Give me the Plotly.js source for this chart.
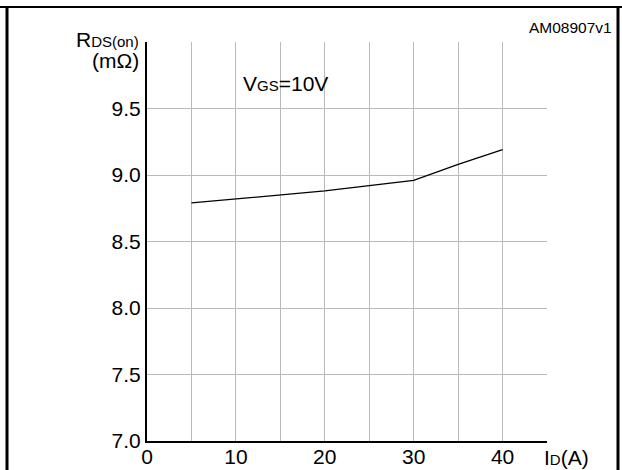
<!DOCTYPE html>
<html>
<head>
<meta charset="utf-8">
<script src="https://cdn.plot.ly/plotly-3.0.1.min.js"></script>
<style>
  html, body { margin: 0; padding: 0; background: #ffffff; }
  #chart { width: 622px; height: 470px; }
</style>
</head>
<body>
<div id="chart"></div>
<script>
// Data
var currentA = [5, 10, 15, 20, 25, 30, 35, 40];
var rdsOn = [8.79, 8.82, 8.85, 8.88, 8.92, 8.96, 9.08, 9.19];

var xTickVals = [0, 5, 10, 15, 20, 25, 30, 35, 40, 45];
var xTickText = ['0', '', '10', '', '20', '', '30', '', '40', ''];
var yTickVals = [7.0, 7.5, 8.0, 8.5, 9.0, 9.5, 10.0];
var yTickText = ['7.0', '7.5', '8.0', '8.5', '9.0', '9.5', ''];

var FONT = '"Liberation Sans", Arial, Helvetica, sans-serif';

var trace = {
  x: currentA,
  y: rdsOn,
  type: 'scatter',
  mode: 'lines',
  line: { color: '#000000', width: 1.3 },
  hoverinfo: 'x+y',
  showlegend: false
};

var W = 622, H = 470;
var L = 147, R = 75, T = 42, B = 29;
var pw = W - L - R, ph = H - T - B;
function px(x) { return (x - L) / pw; }
function py(y) { return (H - B - y) / ph; }

var layout = {
  width: W,
  height: H,
  margin: { l: L, r: R, t: T, b: B, pad: 0 },
  paper_bgcolor: '#ffffff',
  plot_bgcolor: '#ffffff',
  font: { family: FONT, size: 21, color: '#000000' },
  xaxis: {
    range: [0, 45],
    tickmode: 'array',
    tickvals: xTickVals,
    ticktext: xTickText,
    ticks: '',
    ticklabelstandoff: -4,
    showgrid: true,
    gridcolor: '#bababa',
    gridwidth: 1,
    zeroline: false,
    showline: true,
    linecolor: '#000000',
    linewidth: 2,
    tickfont: { family: FONT, size: 21, color: '#000000' },
    fixedrange: true
  },
  yaxis: {
    range: [7, 10],
    tickmode: 'array',
    tickvals: yTickVals,
    ticktext: yTickText,
    ticks: '',
    showgrid: true,
    gridcolor: '#bababa',
    gridwidth: 1,
    zeroline: false,
    showline: true,
    linecolor: '#000000',
    linewidth: 2,
    tickfont: { family: FONT, size: 21, color: '#000000' },
    fixedrange: true
  },
  shapes: [
    { type: 'line', xref: 'paper', yref: 'paper', x0: px(0), x1: px(622), y0: py(7), y1: py(7), line: { color: '#000000', width: 2 } },
    { type: 'line', xref: 'paper', yref: 'paper', x0: px(7), x1: px(7), y0: py(7), y1: py(470), line: { color: '#000000', width: 3 } },
    { type: 'line', xref: 'paper', yref: 'paper', x0: px(618), x1: px(618), y0: py(7), y1: py(470), line: { color: '#000000', width: 3 } }
  ],
  annotations: [
    { xref: 'paper', yref: 'paper', x: px(614), y: py(28), xanchor: 'right', yanchor: 'middle', showarrow: false,
      text: 'AM08907v1', font: { family: FONT, size: 15.5, color: '#000000' } },
    { xref: 'paper', yref: 'paper', x: px(141), y: py(40), xanchor: 'right', yanchor: 'middle', showarrow: false,
      text: 'R<span style="font-size:15px">DS(on)</span>', font: { family: FONT, size: 21, color: '#000000' } },
    { xref: 'paper', yref: 'paper', x: px(141), y: py(60), xanchor: 'right', yanchor: 'middle', showarrow: false,
      text: '(m\u03A9)', font: { family: FONT, size: 21, color: '#000000' } },
    { xref: 'paper', yref: 'paper', x: px(241), y: py(83), xanchor: 'left', yanchor: 'middle', showarrow: false,
      text: 'V<span style="font-size:15px">GS</span>=10V', font: { family: FONT, size: 21, color: '#000000' } },
    { xref: 'paper', yref: 'paper', x: px(542), y: py(457), xanchor: 'left', yanchor: 'middle', showarrow: false,
      text: 'I<span style="font-size:15px">D</span>(A)', font: { family: FONT, size: 21, color: '#000000' } }
  ]
};

Plotly.newPlot('chart', [trace], layout, { displayModeBar: false, staticPlot: true });
</script>
</body>
</html>
